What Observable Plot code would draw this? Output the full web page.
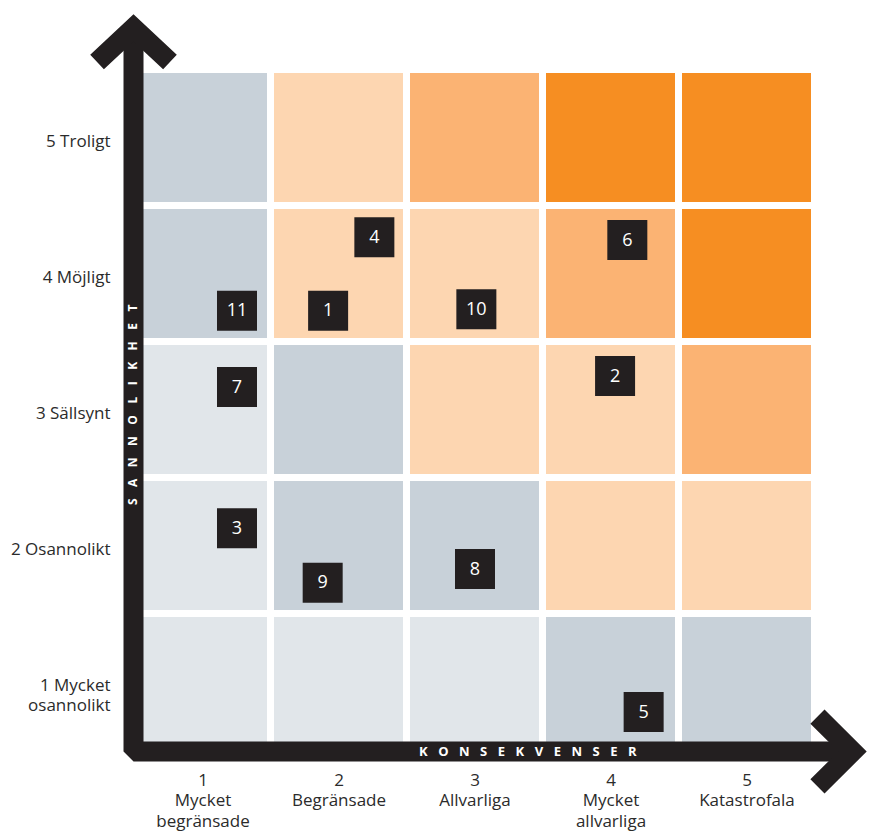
<!DOCTYPE html>
<html><head><meta charset="utf-8">
<script src="https://cdn.jsdelivr.net/npm/d3@7"></script>
<script src="https://cdn.jsdelivr.net/npm/@observablehq/plot@0.6"></script>
<style>body{margin:0;background:#fff}</style>
</head><body><div id="chart"></div>
<script>
// Axis categories
const consequenceLabels = ["1\nMycket\nbegränsade", "2\nBegränsade", "3\nAllvarliga", "4\nMycket\nallvarliga", "5\nKatastrofala"];
const probabilityLabels = ["1 Mycket\nosannolikt", "2 Osannolikt", "3 Sällsynt", "4 Möjligt", "5 Troligt"];
const levels = [1, 2, 3, 4, 5];

// Risk level per cell: rows = probability 1 (bottom) .. 5 (top), columns = consequence 1..5
const levelRows = [
  [0, 0, 0, 1, 1],
  [0, 1, 1, 2, 2],
  [0, 1, 2, 2, 3],
  [1, 2, 2, 3, 4],
  [1, 2, 3, 4, 4]
];
const levelColors = ["#e1e6ea", "#c8d1d9", "#fdd6b1", "#fbb373", "#f68e22"];

// Numbered risks placed in the matrix (consequence, probability)
const riskIds         = ["1",   "2",   "3",   "4",   "5",   "6",   "7",   "8",   "9",   "10",  "11"];
const riskConsequence = [1.92,  4.03,  1.25,  2.26,  4.24,  4.12,  1.25,  3.00,  1.88,  3.01,  1.25];
const riskProbability = [3.73,  3.25,  2.13,  4.27,  0.78,  4.25,  3.17,  1.83,  1.73,  3.74,  3.73];

const cells = [];
levelRows.forEach((row, pi) => row.forEach((lv, ci) => cells.push({c: ci + 1, p: pi + 1, level: lv})));
const risks = riskIds.map((id, i) => ({id, c: riskConsequence[i], p: riskProbability[i]}));

const ink = "#231f20";
const font = "'Open Sans', sans-serif";

const chart = Plot.plot({
  width: 869,
  height: 834,
  marginLeft: 134.5,
  marginRight: 54.5,
  marginTop: 69.5,
  marginBottom: 84.5,
  x: {domain: [0.5, 5.5], axis: null},
  y: {domain: [0.5, 5.5], axis: null},
  color: {type: "ordinal", domain: [0, 1, 2, 3, 4], range: levelColors},
  style: {fontFamily: font, fontSize: "17px", color: "#2b2b2b", background: "#fff"},
  marks: [
    Plot.rect(cells, {x1: d => d.c - 0.5, x2: d => d.c + 0.5, y1: d => d.p - 0.5, y2: d => d.p + 0.5, fill: "level", inset: 3.5}),
    Plot.axisX({ticks: levels, tickFormat: d => consequenceLabels[d - 1], tickSize: 0, tickPadding: 21, lineAnchor: "top", lineHeight: 1.22, fontSize: 17, label: null, fill: "#2b2b2b"}),
    Plot.axisY({ticks: levels, tickFormat: d => probabilityLabels[d - 1], tickSize: 0, tickPadding: 24.5, lineAnchor: "top", dy: -5.5, lineHeight: 1.2, fontSize: 17, label: null, fill: "#2b2b2b"}),
    // axis bars (L shape) and arrow heads
    Plot.line([[0.489, 5.81], [0.489, 0.489], [5.776, 0.489]], {stroke: ink, strokeWidth: 20, strokeLinejoin: "miter", strokeLinecap: "butt"}),
    Plot.line([[0.221, 5.559], [0.489, 5.81], [0.757, 5.559]], {stroke: ink, strokeWidth: 20, strokeLinejoin: "miter", strokeMiterlimit: 4, strokeLinecap: "butt"}),
    Plot.line([[5.518, 0.746], [5.776, 0.489], [5.518, 0.232]], {stroke: ink, strokeWidth: 20, strokeLinejoin: "miter", strokeMiterlimit: 4, strokeLinecap: "butt"}),
    Plot.text(["SANNOLIKHET"], {x: 0.489, y: 3.04, text: d => d, rotate: -90, fill: "#fff", fontWeight: "bold", fontSize: 12}),
    Plot.text(["KONSEKVENSER"], {x: 3.39, y: 0.489, text: d => d, fill: "#fff", fontWeight: "bold", fontSize: 13}),
    // risk markers
    Plot.dot(risks, {x: "c", y: "p", symbol: "square", r: 22.57, fill: ink, stroke: null}),
    Plot.text(risks, {x: "c", y: "p", text: "id", fill: "#fff", fontSize: 18})
  ]
});

d3.select(chart).selectAll("text").each(function() {
  const t = this.textContent;
  if (t === "SANNOLIKHET") d3.select(this).attr("letter-spacing", 11.5).attr("dx", 5.5);
  if (t === "KONSEKVENSER") d3.select(this).attr("letter-spacing", 10.5).attr("dx", 5);
});
document.getElementById("chart").append(chart);
</script>
</body></html>
